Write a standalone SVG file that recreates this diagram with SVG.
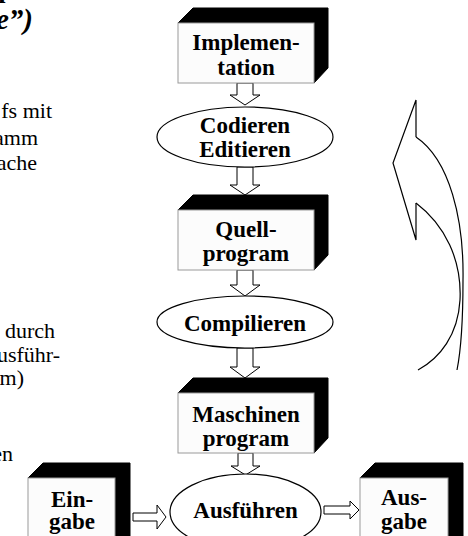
<svg xmlns="http://www.w3.org/2000/svg" width="468" height="536" viewBox="0 0 468 536">
<style>
.face{fill:#fcfcfc;stroke:#9a9a9a;stroke-width:1}
.dark{fill:#000;stroke:#000;stroke-width:1}
.ell{fill:#fff;stroke:#000;stroke-width:1.2}
.arr{fill:#fff;stroke:#000;stroke-width:1}
.lbl{font-family:"Liberation Serif",serif;font-weight:bold;font-size:23px;text-anchor:middle;fill:#000}
.side{font-family:"Liberation Serif",serif;font-size:22px;text-anchor:end;fill:#000}
.curve{fill:none;stroke:#000;stroke-width:1.2}
</style>
<rect width="468" height="536" fill="#fff"/>
<g id="side-text">
<text x="-2" y="3" style="font-family:'Liberation Serif',serif;font-weight:bold;font-size:28px;fill:#000">l</text>
<text x="33" y="29" style="font-family:'Liberation Serif',serif;font-weight:bold;font-style:italic;font-size:29px;text-anchor:end;fill:#000">e”)</text>
<text class="side" x="52" y="118">fs mit</text>
<text class="side" x="38" y="145">amm</text>
<text class="side" x="37" y="170">ache</text>
<text class="side" x="55" y="338">durch</text>
<text class="side" x="60" y="362">usführ-</text>
<text class="side" x="24" y="385">m)</text>
<text class="side" x="13" y="461">en</text>
</g>
<g id="connectors">
<polygon class="arr" points="237,83 253,83 253,95 260,95 245,105 230,95 237,95"/>
<polygon class="arr" points="237,167 253,167 253,185 260,185 245,195 230,185 237,185"/>
<polygon class="arr" points="237,270 253,270 253,285 260,285 245,296 230,285 237,285"/>
<polygon class="arr" points="237,348 253,348 253,367 260,367 245,378 230,367 237,367"/>
<polygon class="arr" points="238,453 253,453 253,466 260,466 245.5,475 231,466 238,466"/>
<polygon class="arr" points="133,513 157,513 157,505 166,517 157,529 157,521 133,521"/>
<polygon class="arr" points="324,506 350,506 350,501 359,510 350,519 350,514 324,514"/>
</g>
<g id="loop-arrow">
<path class="curve" d="M416,137 L416,100 L393,163 L416,240 L416,203"/>
<path class="curve" d="M416,137 C450,160 464,220 463,280 C463,320 461,350 457,370"/>
<path class="curve" d="M416,203 C445,225 462,260 460,300 C458,335 440,358 418,370"/>
</g>
<g id="implementation">
<polygon class="dark" points="178,23 193,8 328,8 328,68 314,83 314,23"/>
<rect class="face" x="178" y="23" width="136" height="60"/>
<text class="lbl" x="246" y="50">Implemen-</text>
<text class="lbl" x="246" y="75">tation</text>
</g>
<g id="codieren">
<ellipse class="ell" cx="245" cy="137" rx="88" ry="30"/>
<text class="lbl" x="245" y="133">Codieren</text>
<text class="lbl" x="245" y="157">Editieren</text>
</g>
<g id="quellprogram">
<polygon class="dark" points="178,210 193,195 328,195 328,255 314,270 314,210"/>
<rect class="face" x="178" y="210" width="136" height="60"/>
<text class="lbl" x="246" y="237">Quell-</text>
<text class="lbl" x="246" y="261">program</text>
</g>
<g id="compilieren">
<ellipse class="ell" cx="245" cy="322" rx="88" ry="26"/>
<text class="lbl" x="245" y="331">Compilieren</text>
</g>
<g id="maschinenprogram">
<polygon class="dark" points="178,393 193,378 328,378 328,438 314,453 314,393"/>
<rect class="face" x="178" y="393" width="136" height="60"/>
<text class="lbl" x="246" y="422">Maschinen</text>
<text class="lbl" x="246" y="446">program</text>
</g>
<g id="ausfuehren">
<ellipse class="ell" cx="245.5" cy="512" rx="75.5" ry="38"/>
<text class="lbl" x="245.5" y="518">Ausführen</text>
</g>
<g id="eingabe">
<polygon class="dark" points="28,478 43,463 130,463 130,545 115,560 115,478"/>
<rect class="face" x="28" y="478" width="87" height="80"/>
<text class="lbl" x="72" y="507">Ein-</text>
<text class="lbl" x="72" y="529">gabe</text>
</g>
<g id="ausgabe">
<polygon class="dark" points="360,478 375,463 463,463 463,545 448,560 448,478"/>
<rect class="face" x="360" y="478" width="88" height="80"/>
<text class="lbl" x="404" y="505">Aus-</text>
<text class="lbl" x="404" y="529">gabe</text>
</g>
</svg>
